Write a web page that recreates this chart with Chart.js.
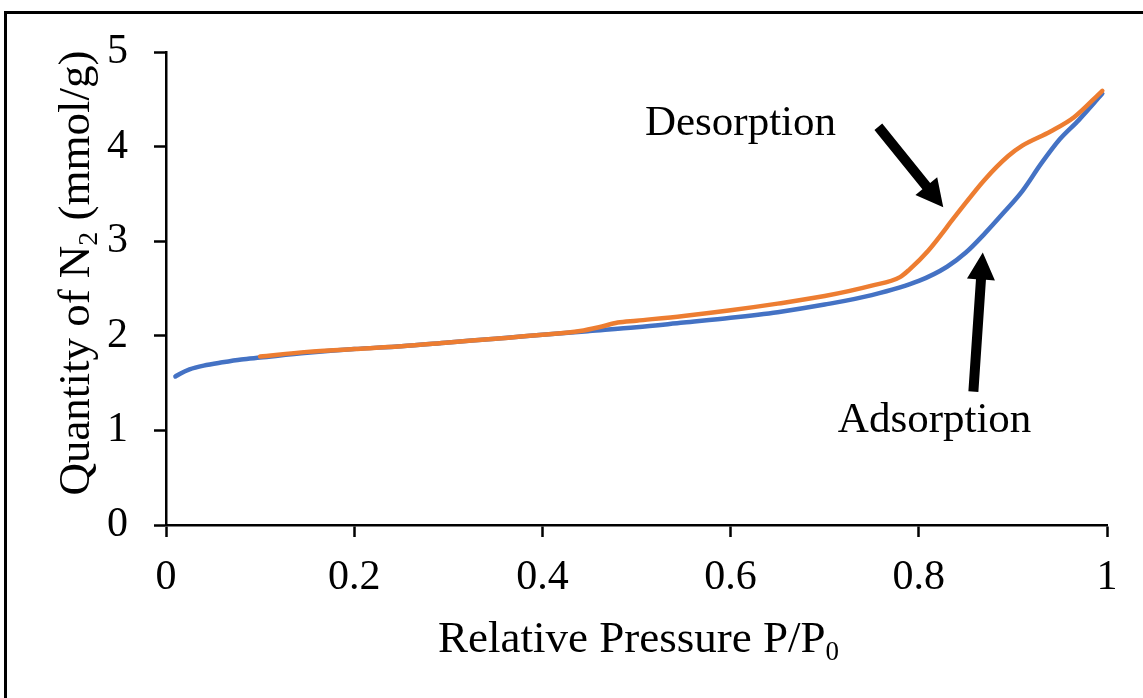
<!DOCTYPE html>
<html>
<head>
<meta charset="utf-8">
<title>N2 isotherm</title>
<script src="https://cdn.jsdelivr.net/npm/chart.js@4.4.0/dist/chart.umd.min.js"></script>
<style>
  html, body { margin: 0; padding: 0; background: #fff; }
  #wrap { width: 1143px; height: 698px; }
</style>
</head>
<body>
<div id="wrap"><canvas id="chart" width="1143" height="698"></canvas></div>
<script>
// Relative pressure P/P0 and quantity adsorbed (mmol/g)
const adsX = [0.010, 0.015, 0.025, 0.040, 0.060, 0.080, 0.10, 0.15, 0.20, 0.25, 0.30, 0.35, 0.40, 0.45, 0.50,
              0.55, 0.60, 0.65, 0.70, 0.75, 0.80, 0.83, 0.85, 0.87, 0.89, 0.91, 0.93, 0.95, 0.97, 0.995];
const adsY = [1.57, 1.60, 1.645, 1.685, 1.72, 1.75, 1.77, 1.82, 1.86, 1.89, 1.93, 1.97, 2.01, 2.05, 2.09,
              2.14, 2.19, 2.25, 2.33, 2.43, 2.58, 2.73, 2.88, 3.08, 3.30, 3.53, 3.82, 4.08, 4.28, 4.56];

const desX = [0.10, 0.15, 0.20, 0.25, 0.30, 0.35, 0.40, 0.44, 0.46, 0.48, 0.50, 0.55, 0.60, 0.65,
              0.70, 0.75, 0.78, 0.79, 0.81, 0.84, 0.87, 0.895, 0.91, 0.94, 0.965, 0.995];
const desY = [1.78, 1.83, 1.86, 1.89, 1.93, 1.97, 2.01, 2.05, 2.09, 2.14, 2.16, 2.21, 2.27, 2.34,
              2.42, 2.53, 2.62, 2.70, 2.90, 3.28, 3.65, 3.90, 4.01, 4.16, 4.31, 4.59];

const xTicks = [0, 0.2, 0.4, 0.6, 0.8, 1];
const yTicks = [0, 1, 2, 3, 4, 5];

// labels and arrows, placed in data units
const notes = [
  { text: 'Desorption', x: 0.509, y: 4.12 },
  { text: 'Adsorption', x: 0.714, y: 0.98 }
];
const arrows = [
  { from: [0.757, 4.21], to: [0.826, 3.36] },
  { from: [0.858, 1.41], to: [0.868, 2.88] }
];

const serif = "'Liberation Serif', 'Times New Roman', serif";

function toPoints(xs, ys) {
  return xs.map((x, i) => ({ x: x, y: ys[i] }));
}

function drawArrow(ctx, x1, y1, x2, y2) {
  const shaft = 10, headLen = 27, headW = 28;
  const ang = Math.atan2(y2 - y1, x2 - x1);
  const len = Math.hypot(x2 - x1, y2 - y1);
  ctx.save();
  ctx.translate(x1, y1);
  ctx.rotate(ang);
  ctx.beginPath();
  ctx.moveTo(0, -shaft / 2);
  ctx.lineTo(len - headLen, -shaft / 2);
  ctx.lineTo(len - headLen, -headW / 2);
  ctx.lineTo(len, 0);
  ctx.lineTo(len - headLen, headW / 2);
  ctx.lineTo(len - headLen, shaft / 2);
  ctx.lineTo(0, shaft / 2);
  ctx.closePath();
  ctx.fillStyle = '#000';
  ctx.fill();
  ctx.restore();
}

// draws "main" followed by a lowered, smaller "sub", centred on cx
function textWithSub(ctx, main, sub, cx, baseY, size, subSize, drop) {
  ctx.font = size + 'px ' + serif;
  const w1 = ctx.measureText(main).width;
  ctx.font = subSize + 'px ' + serif;
  const w2 = ctx.measureText(sub).width;
  let x = cx - (w1 + w2) / 2;
  ctx.textAlign = 'left';
  ctx.textBaseline = 'alphabetic';
  ctx.font = size + 'px ' + serif;
  ctx.fillText(main, x, baseY);
  ctx.font = subSize + 'px ' + serif;
  ctx.fillText(sub, x + w1, baseY + drop);
}

const decorations = {
  id: 'decorations',
  beforeDraw(chart) {
    const ctx = chart.ctx;
    ctx.save();
    ctx.fillStyle = '#fff';
    ctx.fillRect(0, 0, chart.width, chart.height);
    // frame
    ctx.strokeStyle = '#000';
    ctx.lineWidth = 3;
    ctx.beginPath();
    ctx.moveTo(5.5, chart.height);
    ctx.lineTo(5.5, 12.5);
    ctx.lineTo(chart.width, 12.5);
    ctx.stroke();
    ctx.restore();
  },
  afterDraw(chart) {
    const ctx = chart.ctx;
    const xs = chart.scales.x, ys = chart.scales.y;
    const area = chart.chartArea;
    ctx.save();
    ctx.fillStyle = '#000';

    // x axis title
    textWithSub(ctx, 'Relative Pressure P/P', '0', (area.left + area.right) / 2 + 2, 652, 45, 27, 8);

    // y axis title
    ctx.save();
    ctx.translate(89, 273);
    ctx.rotate(-Math.PI / 2);
    ctx.font = '45px ' + serif;
    const a = 'Quantity of N', c = ' (mmol/g)';
    const wa = ctx.measureText(a).width, wc = ctx.measureText(c).width;
    ctx.font = '28px ' + serif;
    const wb = ctx.measureText('2').width;
    let x0 = -(wa + wb + wc) / 2;
    ctx.textAlign = 'left';
    ctx.textBaseline = 'alphabetic';
    ctx.font = '45px ' + serif;
    ctx.fillText(a, x0, 0);
    ctx.font = '28px ' + serif;
    ctx.fillText('2', x0 + wa, 8);
    ctx.font = '45px ' + serif;
    ctx.fillText(c, x0 + wa + wb, 0);
    ctx.restore();

    // annotations
    ctx.font = '43px ' + serif;
    ctx.textAlign = 'left';
    ctx.textBaseline = 'alphabetic';
    notes.forEach(n => {
      ctx.fillText(n.text, xs.getPixelForValue(n.x), ys.getPixelForValue(n.y));
    });
    arrows.forEach(a => {
      drawArrow(ctx,
        xs.getPixelForValue(a.from[0]), ys.getPixelForValue(a.from[1]),
        xs.getPixelForValue(a.to[0]), ys.getPixelForValue(a.to[1]));
    });
    ctx.restore();
  }
};

const ctx = document.getElementById('chart').getContext('2d');
new Chart(ctx, {
  type: 'scatter',
  data: {
    datasets: [
      {
        label: 'Desorption',
        data: toPoints(desX, desY),
        showLine: true,
        borderColor: '#ED7D31',
        borderWidth: 4.5,
        pointRadius: 0,
        cubicInterpolationMode: 'monotone',
        borderCapStyle: 'round',
        order: 0
      },
      {
        label: 'Adsorption',
        data: toPoints(adsX, adsY),
        showLine: true,
        borderColor: '#4472C4',
        borderWidth: 4.5,
        pointRadius: 0,
        cubicInterpolationMode: 'monotone',
        borderCapStyle: 'round',
        order: 1
      }
    ]
  },
  options: {
    responsive: false,
    animation: false,
    layout: { padding: { top: 52, right: 36, bottom: 0, left: 0 } },
    plugins: {
      legend: { display: false },
      tooltip: { enabled: false }
    },
    scales: {
      x: {
        type: 'linear',
        min: 0,
        max: 1,
        afterBuildTicks: s => { s.ticks = xTicks.map(v => ({ value: v })); },
        afterFit: s => { s.height = 173; },
        ticks: {
          color: '#000',
          font: { family: serif, size: 42 },
          padding: 16,
          maxRotation: 0,
          callback: v => String(v)
        },
        grid: { drawOnChartArea: false, drawTicks: true, tickLength: 12, tickColor: '#000', tickWidth: 2.5 },
        border: { display: true, color: '#000', width: 2.5 }
      },
      y: {
        type: 'linear',
        min: 0,
        max: 5,
        afterBuildTicks: s => { s.ticks = yTicks.map(v => ({ value: v })); },
        afterFit: s => { s.width = 166; },
        ticks: {
          color: '#000',
          font: { family: serif, size: 42 },
          padding: 26,
          callback: v => String(v)
        },
        grid: { drawOnChartArea: false, drawTicks: true, tickLength: 12, tickColor: '#000', tickWidth: 2.5 },
        border: { display: true, color: '#000', width: 2.5 }
      }
    }
  },
  plugins: [decorations]
});
</script>
</body>
</html>
